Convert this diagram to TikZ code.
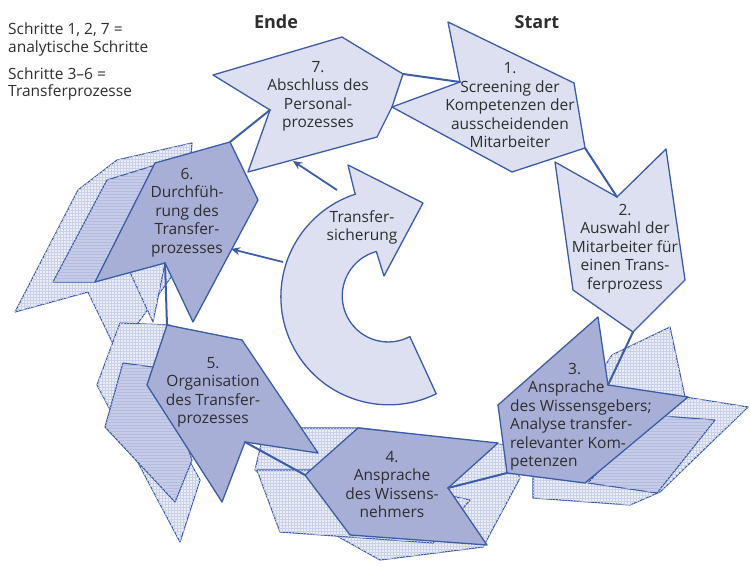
\documentclass[tikz,border=0pt]{standalone}
\usepackage{fontspec}
\setmainfont{Open Sans}
\usetikzlibrary{patterns,arrows.meta,calc}
\definecolor{edgecol}{HTML}{3C5CA8}
\definecolor{lightfill}{HTML}{DCE0F0}
\definecolor{midfill}{HTML}{A7AFD6}
\definecolor{shfill}{HTML}{ECEEF7}
\definecolor{shgrid}{HTML}{C9D0EA}
\definecolor{shmid}{HTML}{C6CCE7}
\definecolor{shmidgrid}{HTML}{B3BBDE}
\definecolor{textcol}{HTML}{2E2E2E}
\begin{document}
\begin{tikzpicture}[x=1pt,y=-1pt,
  lightbox/.style={draw=edgecol,fill=lightfill,line width=1.3pt,line join=round},
  midbox/.style={draw=edgecol,fill=midfill,line width=1.3pt,line join=round},
  shadowlight/.style={draw=edgecol,fill=shfill,line width=1.1pt,line join=round,postaction={pattern=grid,pattern color=shgrid}},
  shadowdark/.style={draw=edgecol,fill=shmid,line width=1.1pt,line join=round,postaction={pattern=horizontal lines,pattern color=shmidgrid}},
  link/.style={draw=edgecol,line width=2pt,line cap=round},
  feed/.style={draw=edgecol,line width=1.8pt,-{Stealth[length=9pt,width=8pt]}},
  txt/.style={text=textcol,align=center,inner sep=0pt,font=\fontsize{15.5}{18.5}\selectfont},
  ltxt/.style={text=textcol,align=left,inner sep=0pt,font=\fontsize{15.5}{17.5}\selectfont},
  head/.style={text=textcol,inner sep=0pt,font=\fontsize{18}{20}\selectfont\bfseries}]
\useasboundingbox (0,0) rectangle (750,567);

% ---------- shadows ----------
% around step 6
\path[shadowlight] (78,190) -- (117,160) -- (192,143) -- (182,262) -- (117,352) -- (88,292) -- (15,312) -- cycle;
\path[shadowdark] (53,282) -- (107,180) -- (172,160) -- (95,282) -- cycle;
\path[shadowlight] (130,272) -- (165,263) -- (153,322) -- cycle;
% around step 5
\path[shadowlight] (120,323) -- (170,325) -- (150,390) -- (200,480) -- (180,542) -- (97,385) -- cycle;
\path[shadowdark] (123,363) -- (160,368) -- (192,460) -- (175,502) -- (105,427) -- cycle;
% around step 4
\path[shadowlight] (265,428) -- (360,428) -- (505,445) -- (520,478) -- (483,547) -- (380,560) -- (330,532) -- (255,470) -- cycle;
\path[shadowlight] (257,470) -- (330,470) -- (470,500) -- (433,543) -- (280,532) -- cycle;
% around step 3
\path[shadowlight] (612,355) -- (670,327) -- (685,397) -- (748,407) -- (660,492) -- (630,505) -- (533,498) -- (533,478) -- cycle;
\path[shadowdark] (650,415) -- (715,420) -- (657,493) -- (588,483) -- cycle;

% ---------- main steps ----------
\path[lightbox] (213,75) -- (342,37) -- (403,74) -- (392,107) -- (377,137) -- (248,172) -- (270,110) -- cycle;
\coordinate (s7notch) at (270,110);
\coordinate (s7tip) at (403,74);
\coordinate (s7bottom) at (293,161);

\path[lightbox] (448,22) -- (574,83) -- (585,148) -- (512,172) -- (392,107) -- (460,82) -- cycle;
\coordinate (s1notch) at (460,82);
\coordinate (s1out) at (585,148);

\path[lightbox] (555,162) -- (617,197) -- (666,149) -- (685,280) -- (633,332) -- (573,290) -- cycle;
\coordinate (s2notch) at (617,197);
\coordinate (s2tip) at (633,332);

\path[midbox] (598,317) -- (608,385) -- (688,397) -- (585,483) -- (507,473) -- (498,405) -- cycle;
\coordinate (s3notch) at (608,385);
\coordinate (s3out) at (507,473);

\path[midbox] (305,475) -- (358,428) -- (498,443) -- (448,488) -- (487,545) -- (350,535) -- cycle;
\coordinate (s4notch) at (448,488);
\coordinate (s4tip) at (305,475);

\path[midbox] (167,325) -- (242,340) -- (318,453) -- (245,442) -- (222,502) -- (147,385) -- cycle;
\coordinate (s5notch) at (245,442);
\coordinate (s5top) at (167,325);

\path[midbox] (155,163) -- (230,142) -- (258,200) -- (193,322) -- (165,263) -- (95,282) -- cycle;
\coordinate (s6notch) at (165,263);
\coordinate (s6top) at (230,142);
\coordinate (s6right) at (231,249);

% ---------- links ----------
\draw[link] (s7tip) -- (s1notch);
\draw[link] (s1out) -- (s2notch);
\draw[link] (s2tip) -- (s3notch);
\draw[link] (s3out) -- (s4notch);
\draw[link] (s4tip) -- (s5notch);
\draw[link] (s5top) -- (s6notch);
\draw[link] (s6top) -- (s7notch);

% ---------- Transfersicherung ----------
\coordinate (tc) at (388,295);
\path[lightbox] ($(tc)+(252:108)$) -- (348,165) -- (423,203) -- (384,276) -- ($(tc)+(255:45)$)
  arc[start angle=255,end angle=62,radius=46] -- ($(tc)+(64:110)$)
  arc[start angle=64,end angle=252,radius=108] -- cycle;
\coordinate (tsA) at (337,190);
\coordinate (tsB) at (283,262);
\draw[feed] (tsA) -- (s7bottom);
\draw[feed] (tsB) -- (s6right);

% ---------- texts ----------
\node[txt] (t7) at (318,96.5) {7.\\Abschluss des\\Personal-\\prozesses};
\node[txt] (t1) at (510,105.5) {1.\\Screening der\\Kompetenzen der\\ausscheidenden\\Mitarbeiter};
\node[txt] (t2) at (625,248.5) {2.\\Auswahl der\\Mitarbeiter für\\einen Trans-\\ferprozess};
\node[ltxt,anchor=west,font=\fontsize{15.5}{18.5}\selectfont] (t3) at (510,416.5) {\hspace*{58pt}3.\\\hspace*{18pt}Ansprache\\des Wissensgebers;\\Analyse transfer-\\relevanter Kom-\\petenzen};
\node[txt] (t4) at (392,484.5) {4.\\Ansprache\\des Wissens-\\nehmers};
\node[txt] (t5) at (213,392.5) {5.\\Organisation\\des Transfer-\\prozesses};
\node[txt] (t6) at (187,212.5) {6.\\Durchfüh-\\rung des\\Transfer-\\prozesses};
\node[txt] (tts) at (362,227.5) {Transfer-\\sicherung};
\node[ltxt,anchor=west] (leg1) at (8,39.5) {Schritte 1, 2, 7 =\\analytische Schritte};
\node[ltxt,anchor=west] (leg2) at (8,84) {Schritte 3–6 =\\Transferprozesse};
\node[head] (ende) at (276,22) {Ende};
\node[head] (start) at (537,22) {Start};
\end{tikzpicture}
\end{document}
